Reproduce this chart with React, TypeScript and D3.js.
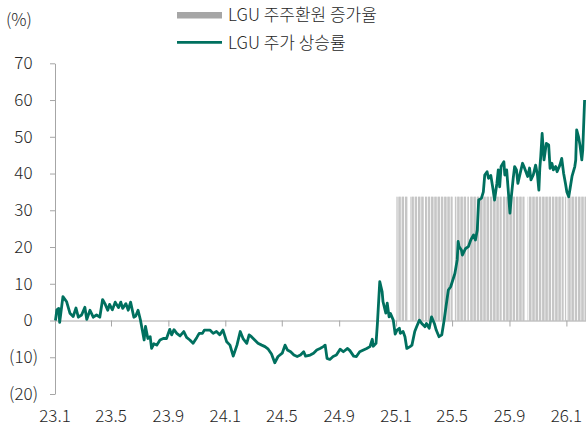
import { useRef, useEffect } from "react";
import * as d3 from "d3";

// LGU 주가 상승률 (%)
const stockReturn: [string, number][] = [
  ["2023-01-02", 0], ["2023-01-05", 2.9], ["2023-01-09", 3.3], ["2023-01-11", -0.5],
  ["2023-01-18", 6.5], ["2023-01-26", 5.1], ["2023-02-02", 2.0], ["2023-02-09", 1.1],
  ["2023-02-15", 3.4], ["2023-02-20", 0.9], ["2023-02-27", 1.5], ["2023-03-06", 3.6],
  ["2023-03-10", 0.3], ["2023-03-17", 2.8], ["2023-03-24", 0.9], ["2023-03-31", 1.5],
  ["2023-04-07", 0.9], ["2023-04-13", 5.7], ["2023-04-18", 4.6], ["2023-04-24", 2.8],
  ["2023-04-28", 4.4], ["2023-05-04", 2.9], ["2023-05-10", 5.0], ["2023-05-17", 3.5],
  ["2023-05-22", 5.0], ["2023-05-26", 3.3], ["2023-06-02", 4.6], ["2023-06-07", 2.8],
  ["2023-06-12", 5.0], ["2023-06-19", 0.9], ["2023-06-23", 1.2], ["2023-06-28", 2.8],
  ["2023-07-03", 0.2], ["2023-07-07", -2.5], ["2023-07-11", -5.3], ["2023-07-14", -1.6],
  ["2023-07-19", -4.9], ["2023-07-24", -4.4], ["2023-07-27", -7.6], ["2023-08-01", -6.3],
  ["2023-08-07", -6.7], ["2023-08-14", -5.3], ["2023-08-21", -4.9], ["2023-08-28", -4.9],
  ["2023-09-04", -2.4], ["2023-09-08", -3.9], ["2023-09-13", -2.5], ["2023-09-19", -3.5],
  ["2023-09-26", -4.2], ["2023-10-04", -3.0], ["2023-10-10", -4.6], ["2023-10-17", -5.3],
  ["2023-10-24", -6.2], ["2023-11-01", -4.6], ["2023-11-06", -3.5], ["2023-11-13", -3.5],
  ["2023-11-17", -2.6], ["2023-11-29", -2.6], ["2023-12-06", -3.5], ["2023-12-13", -3.0],
  ["2023-12-20", -3.9], ["2023-12-27", -2.6], ["2024-01-04", -5.8], ["2024-01-11", -6.7],
  ["2024-01-18", -9.7], ["2024-01-26", -6.7], ["2024-02-02", -3.0], ["2024-02-08", -4.9],
  ["2024-02-16", -6.2], ["2024-02-21", -3.9], ["2024-02-26", -4.4], ["2024-03-04", -5.3],
  ["2024-03-11", -6.2], ["2024-03-19", -6.7], ["2024-03-26", -7.1], ["2024-04-02", -7.8],
  ["2024-04-09", -9.1], ["2024-04-16", -11.5], ["2024-04-23", -9.8], ["2024-05-02", -8.9],
  ["2024-05-08", -6.7], ["2024-05-13", -8.0], ["2024-05-20", -8.5], ["2024-05-27", -9.4],
  ["2024-06-03", -9.8], ["2024-06-10", -9.4], ["2024-06-17", -8.5], ["2024-06-21", -9.7],
  ["2024-07-01", -9.4], ["2024-07-08", -8.9], ["2024-07-15", -8.0], ["2024-07-22", -7.6],
  ["2024-07-29", -7.1], ["2024-08-02", -6.7], ["2024-08-06", -10.3], ["2024-08-12", -10.6],
  ["2024-08-19", -9.8], ["2024-08-26", -9.4], ["2024-09-03", -7.8], ["2024-09-10", -8.5],
  ["2024-09-19", -7.6], ["2024-09-24", -8.2], ["2024-10-02", -9.7], ["2024-10-08", -9.8],
  ["2024-10-15", -8.5], ["2024-10-23", -8.0], ["2024-10-30", -7.6], ["2024-11-06", -7.1],
  ["2024-11-11", -5.1], ["2024-11-13", -7.0], ["2024-11-19", -6.2], ["2024-11-22", -0.8],
  ["2024-11-27", 10.6], ["2024-12-02", 7.9], ["2024-12-04", 5.1], ["2024-12-10", 2.0],
  ["2024-12-13", 4.7], ["2024-12-17", 1.0], ["2024-12-20", 1.9], ["2024-12-26", 0.1],
  ["2024-12-30", -3.7], ["2025-01-03", -2.6], ["2025-01-08", -2.1], ["2025-01-10", -3.5],
  ["2025-01-16", -3.0], ["2025-01-20", -4.4], ["2025-01-24", -7.6], ["2025-01-31", -7.1],
  ["2025-02-04", -6.7], ["2025-02-10", -3.0], ["2025-02-14", -1.7], ["2025-02-20", 0.1],
  ["2025-02-25", -0.8], ["2025-03-04", -1.7], ["2025-03-07", -0.8], ["2025-03-13", -2.1],
  ["2025-03-18", 1.0], ["2025-03-24", -0.8], ["2025-03-28", -2.6], ["2025-04-03", -4.4],
  ["2025-04-09", -3.9], ["2025-04-14", 0.1], ["2025-04-18", 3.8], ["2025-04-23", 8.3],
  ["2025-04-28", 9.2], ["2025-05-07", 12.8], ["2025-05-12", 16.5], ["2025-05-14", 21.5],
  ["2025-05-16", 20.1], ["2025-05-21", 19.2], ["2025-05-23", 17.8], ["2025-05-30", 19.6],
  ["2025-06-05", 20.1], ["2025-06-10", 21.9], ["2025-06-16", 23.3], ["2025-06-20", 21.9],
  ["2025-06-24", 24.6], ["2025-06-27", 32.8], ["2025-07-03", 33.3], ["2025-07-07", 35.0],
  ["2025-07-10", 39.6], ["2025-07-15", 40.5], ["2025-07-18", 38.7], ["2025-07-23", 39.5],
  ["2025-07-28", 35.5], ["2025-07-31", 32.8], ["2025-08-05", 37.3], ["2025-08-08", 41.0],
  ["2025-08-11", 36.4], ["2025-08-14", 41.9], ["2025-08-20", 43.2], ["2025-08-22", 39.6],
  ["2025-08-26", 41.0], ["2025-08-29", 36.0], ["2025-09-02", 29.2], ["2025-09-05", 33.7],
  ["2025-09-09", 38.7], ["2025-09-12", 41.9], ["2025-09-16", 41.0], ["2025-09-19", 37.3],
  ["2025-09-24", 40.1], ["2025-09-29", 42.8], ["2025-10-02", 41.9], ["2025-10-10", 39.2],
  ["2025-10-14", 41.5], ["2025-10-17", 38.3], ["2025-10-22", 39.6], ["2025-10-27", 42.3],
  ["2025-10-31", 39.6], ["2025-11-03", 35.5], ["2025-11-05", 41.4], ["2025-11-07", 44.6],
  ["2025-11-10", 50.9], ["2025-11-12", 47.3], ["2025-11-14", 43.7], ["2025-11-19", 48.2],
  ["2025-11-24", 47.8], ["2025-11-27", 41.4], ["2025-12-01", 42.8], ["2025-12-04", 41.0],
  ["2025-12-09", 41.9], ["2025-12-12", 40.5], ["2025-12-18", 42.3], ["2025-12-22", 44.1],
  ["2025-12-26", 40.1], ["2025-12-30", 37.3], ["2026-01-02", 35.0], ["2026-01-06", 33.7],
  ["2026-01-09", 36.0], ["2026-01-13", 39.2], ["2026-01-19", 41.9], ["2026-01-21", 43.7],
  ["2026-01-23", 51.9], ["2026-01-27", 50.0], ["2026-01-30", 47.8], ["2026-02-03", 43.7],
  ["2026-02-05", 46.4], ["2026-02-09", 60.0],
];

// LGU 주주환원 증가율 (%): one daily bar per trading day in this window
const payoutRate = 33.7;
const payoutStart = "2025-01-02";
const payoutEnd = "2026-02-12";
const marketHolidays = [
  "2025-01-27", "2025-01-28", "2025-01-29", "2025-01-30", "2025-03-03",
  "2025-05-01", "2025-05-05", "2025-05-06", "2025-06-03", "2025-06-06",
  "2025-08-15", "2025-10-03", "2025-10-06", "2025-10-07", "2025-10-08",
  "2025-10-09", "2025-12-25", "2025-12-31", "2026-01-01",
];

const yTicks = [-20, -10, 0, 10, 20, 30, 40, 50, 60, 70];
const legendLabels = ["LGU 주주환원 증가율", "LGU 주가 상승률"];

const FONT = "'Noto Sans CJK KR', 'Noto Sans', sans-serif";
const TEAL = "#00705f";
const BAR = "#b0b0b0";
const AXIS = "#a6a6a6";
const TEXT = "#262626";

export default function App() {
  const ref = useRef<SVGSVGElement>(null);

  function init() {
    const svg = d3.select(ref.current);
    svg.selectAll("*").remove();

    const parse = d3.timeParse("%Y-%m-%d");
    const left = 55, right = 586, top = 63.3, bottom = 394;

    const x = d3
      .scaleTime()
      .domain([parse("2023-01-01")!, parse("2026-02-12")!])
      .range([left, right]);
    const y = d3.scaleLinear().domain([-20, 70]).range([bottom, top]);

    // bars
    const holidaySet = new Set(marketHolidays);
    const fmt = d3.timeFormat("%Y-%m-%d");
    const barDays = d3
      .timeDay.range(parse(payoutStart)!, d3.timeDay.offset(parse(payoutEnd)!, 1))
      .filter((d) => d.getDay() !== 0 && d.getDay() !== 6 && !holidaySet.has(fmt(d)));

    svg
      .append("g")
      .selectAll("rect")
      .data(barDays)
      .join("rect")
      .attr("x", (d) => x(d))
      .attr("width", (d) => x(d3.timeDay.offset(d, 1)) - x(d))
      .attr("y", y(payoutRate))
      .attr("height", y(0) - y(payoutRate))
      .attr("fill", BAR);

    // y axis
    const yAxis = d3
      .axisLeft(y)
      .tickValues(yTicks)
      .tickSizeInner(5)
      .tickSizeOuter(0)
      .tickPadding(12)
      .tickFormat((d: any) => (d < 0 ? `(${-d})` : `${d}`));
    const gy = svg.append("g").attr("transform", `translate(${left},0)`).call(yAxis);
    gy.selectAll("path, line").attr("stroke", AXIS);
    gy.selectAll("text")
      .attr("fill", TEXT)
      .style("font-family", FONT)
      .style("font-size", "17px")
      .style("font-weight", 300)
      .attr("dx", (d: any) => (d >= 0 ? -5.5 : 0));

    // x axis on zero line
    const xTicks = x.ticks(d3.timeMonth.every(4)!);
    const xAxis = d3
      .axisBottom(x)
      .tickValues(xTicks)
      .tickSizeInner(6)
      .tickSizeOuter(0)
      .tickFormat(() => "");
    const gx = svg.append("g").attr("transform", `translate(0,${y(0)})`).call(xAxis);
    gx.selectAll("path, line").attr("stroke", AXIS);

    svg
      .append("g")
      .selectAll("text")
      .data(xTicks)
      .join("text")
      .attr("x", (d) => x(d))
      .attr("y", 422)
      .attr("text-anchor", "middle")
      .attr("fill", TEXT)
      .style("font-family", FONT)
      .style("font-size", "17px")
      .style("font-weight", 300)
      .text((d) => d3.timeFormat("%y.%-m")(d));

    // line
    const line = d3
      .line<[string, number]>()
      .x((d) => x(parse(d[0])!))
      .y((d) => y(d[1]));
    svg
      .append("path")
      .datum(stockReturn)
      .attr("d", line)
      .attr("fill", "none")
      .attr("stroke", TEAL)
      .attr("stroke-width", 2.8)
      .attr("stroke-linejoin", "round");

    // unit label
    svg
      .append("text")
      .attr("x", 6)
      .attr("y", 26)
      .attr("fill", TEXT)
      .style("font-family", FONT)
      .style("font-size", "17px")
      .style("font-weight", 300)
      .text("(%)");

    // legend
    const lg = svg.append("g");
    lg.append("rect")
      .attr("x", 177)
      .attr("y", 12)
      .attr("width", 45)
      .attr("height", 6.5)
      .attr("fill", "#a6a6a6");
    lg.append("line")
      .attr("x1", 177)
      .attr("x2", 222)
      .attr("y1", 42.3)
      .attr("y2", 42.3)
      .attr("stroke", TEAL)
      .attr("stroke-width", 2.8);
    lg.selectAll("text")
      .data(legendLabels)
      .join("text")
      .attr("x", 228)
      .attr("y", (_, i) => 21 + i * 28)
      .attr("fill", TEXT)
      .style("font-family", FONT)
      .style("font-size", "17px")
      .style("font-weight", 300)
      .text((d) => d);
  }

  useEffect(init, []);

  return (
    <svg
      ref={ref}
      width={586}
      height={430}
      style={{ position: "absolute", left: 0, top: 0, background: "#fff" }}
    />
  );
}
